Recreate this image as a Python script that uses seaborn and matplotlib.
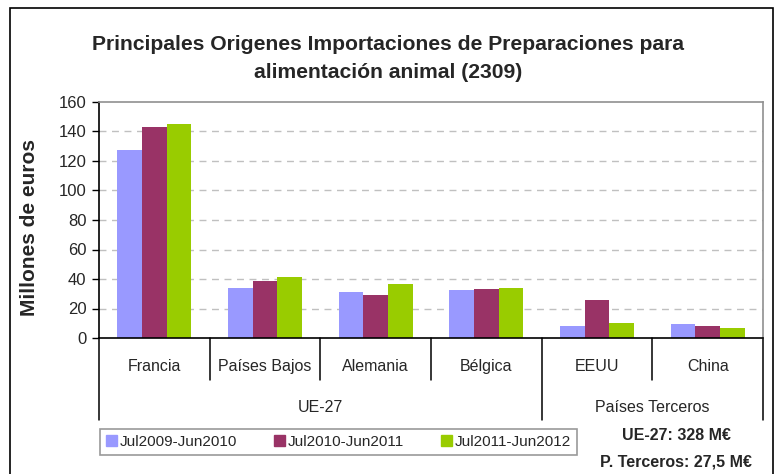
import numpy as np
import pandas as pd
import matplotlib.pyplot as plt
import matplotlib.patches as mpatches
import seaborn as sns

# ----------------------------------------
# Data
# ----------------------------------------

paises = ["Francia", "Países Bajos", "Alemania", "Bélgica", "EEUU", "China"]
periodos = ["Jul2009-Jun2010", "Jul2010-Jun2011", "Jul2011-Jun2012"]

v_2009_10 = [127.7, 34.1, 31.4, 32.7, 8.3, 9.7]
v_2010_11 = [143.3, 38.8, 29.4, 33.4, 26.0, 8.3]
v_2011_12 = [145.3, 41.6, 36.8, 34.1, 10.4, 7.0]

grupos = ["UE-27", "Países Terceros"]
grupo_n = [4, 2]

colores = ["#9999FF", "#993366", "#99CC00"]

titulo = "Principales Origenes Importaciones de Preparaciones para\nalimentación animal (2309)"
nota_ue = "UE-27: 328 M€"
nota_pt = "P. Terceros: 27,5 M€"

df = pd.DataFrame({
    "pais": paises * 3,
    "periodo": np.repeat(periodos, len(paises)),
    "valor": v_2009_10 + v_2010_11 + v_2011_12,
})

# ----------------------------------------
# Figure
# ----------------------------------------

sns.set_style("white")
plt.rcParams["font.family"] = ["Liberation Sans", "DejaVu Sans"]

W, H = 776, 474
fig = plt.figure(figsize=(W / 100, H / 100), dpi=100)
ax = fig.add_axes([99 / W, 1 - 338 / H, 664 / W, 236 / H])

sns.barplot(
    data=df, x="pais", y="valor", hue="periodo",
    palette=colores, width=0.67, gap=0, saturation=1, linewidth=0,
    legend=False, ax=ax, order=paises, hue_order=periodos,
)

ax.set_xlim(-0.5, len(paises) - 0.5)
ax.set_ylim(0, 160)
ax.set_yticks(range(0, 161, 20))
ax.tick_params(axis="y", labelsize=12, length=5, width=1, direction="out",
               left=True, color="black", pad=4)
ax.tick_params(axis="x", labelsize=11.5, length=0, pad=15)
ax.set_xlabel("")
ax.set_ylabel("Millones de euros", fontsize=15, fontweight="bold")
ax.yaxis.set_label_coords(-0.09, 0.47)

for y in range(20, 160, 20):
    ax.axhline(y, color="#c0c0c0", lw=1, ls=(0, (5, 4)), zorder=0)

for side in ["top", "right"]:
    ax.spines[side].set_color("#909090")
    ax.spines[side].set_linewidth(1.2)
for side in ["left", "bottom"]:
    ax.spines[side].set_color("black")
    ax.spines[side].set_linewidth(1.2)

# multi-level category axis
tr = ax.get_xaxis_transform()
inner_y = -(380 - 338) / 236
outer_y = -(420 - 338) / 236
bounds = np.cumsum([0] + grupo_n) - 0.5
for i in range(len(paises) + 1):
    x = i - 0.5
    y_end = outer_y if x in bounds else inner_y
    ax.plot([x, x], [0, y_end], color="black", lw=1.1, transform=tr, clip_on=False)

label_y = -(407 - 338) / 236
for g, n, b in zip(grupos, grupo_n, bounds[:-1]):
    ax.text(b + n / 2, label_y, g, transform=tr, ha="center", va="center",
            fontsize=11.5)

# title
fig.text(0.5, 1 - 59 / H, titulo, ha="center", va="center", fontsize=15.2,
         fontweight="bold", linespacing=1.6)

# legend
handles = [mpatches.Patch(color=c, label=p) for c, p in zip(colores, periodos)]
leg = fig.legend(
    handles=handles, ncol=3, loc="center", mode="expand",
    bbox_to_anchor=(100 / W, 1 - 460 / H, 477 / W, 36 / H),
    frameon=True, fancybox=False, fontsize=11, handlelength=0.7,
    handleheight=0.7, handletextpad=0.2, borderaxespad=0,
)
leg.get_frame().set_edgecolor("#808080")
leg.get_frame().set_linewidth(1.2)

fig.text(676 / W, 1 - 435 / H, nota_ue, ha="center", va="center",
         fontsize=11.5, fontweight="bold")
fig.text(676 / W, 1 - 462 / H, nota_pt, ha="center", va="center",
         fontsize=11.5, fontweight="bold")

# outer frame
fig.add_artist(mpatches.Rectangle(
    (10 / W, -0.02), 763 / W, 1.02 - 8 / H, transform=fig.transFigure,
    fill=False, edgecolor="black", lw=1.2))

fig.savefig("out.png", dpi=100)
